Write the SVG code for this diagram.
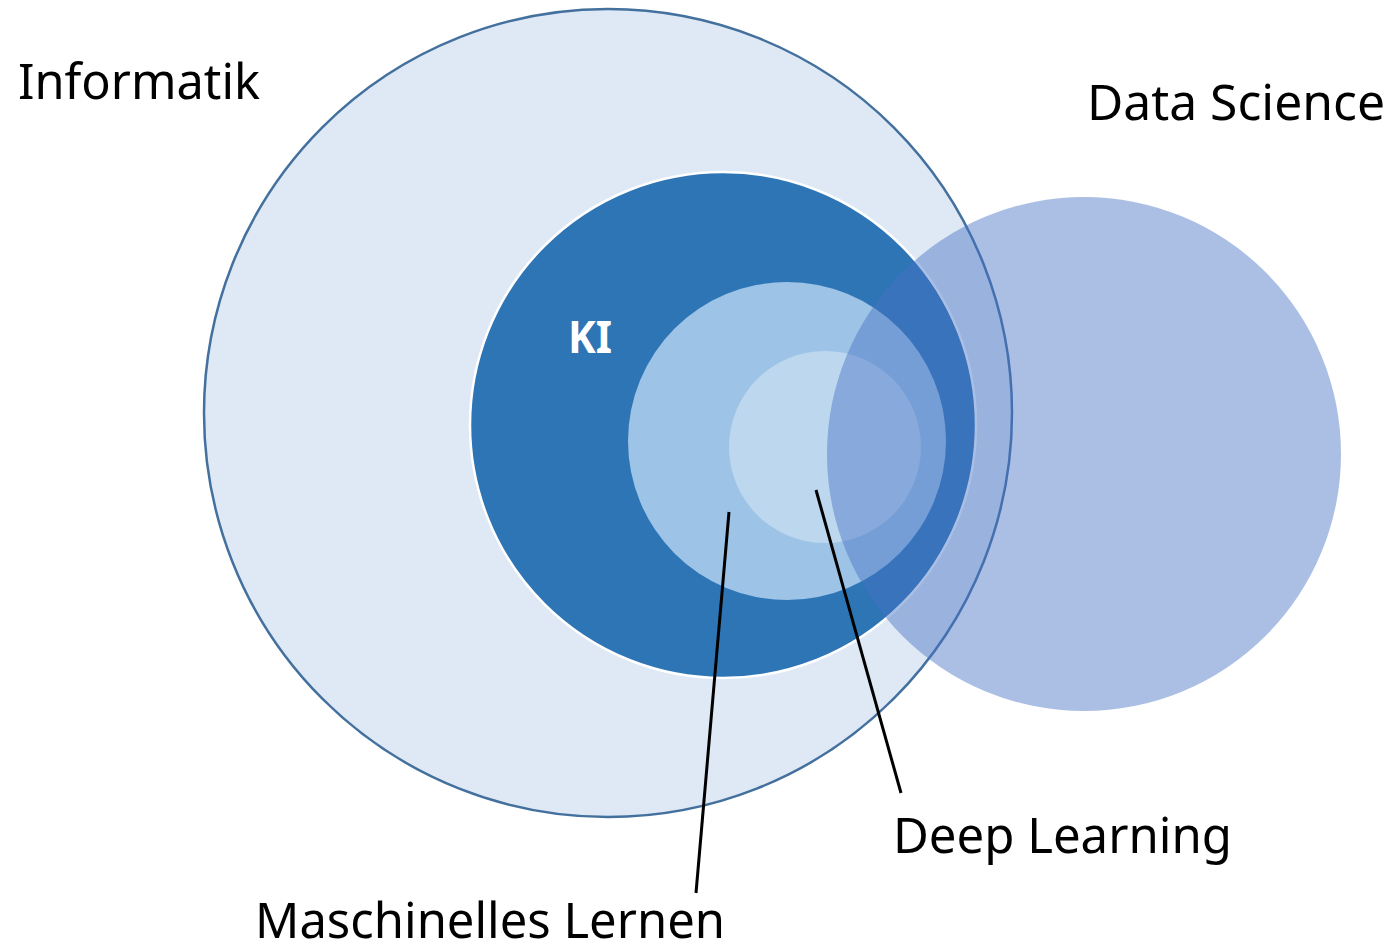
<svg xmlns="http://www.w3.org/2000/svg" width="1393" height="948" viewBox="0 0 1393 948">
  <style>
    .label { font-family: "Noto Sans", "Open Sans", "DejaVu Sans", sans-serif; font-size: 50px; fill: #000000; }
    .ki { font-family: "Noto Sans", "Open Sans", "DejaVu Sans", sans-serif; font-size: 44px; font-weight: bold; fill: #ffffff; }
    .leader { stroke: #000000; stroke-width: 3; fill: none; }
  </style>
  <rect width="1393" height="948" fill="#ffffff"/>

  <g id="informatik">
    <circle cx="608" cy="413" r="404" fill="#DEE9F5" stroke="#44709E" stroke-width="2.5"/>
    <text class="label" x="18" y="99" textLength="242" lengthAdjust="spacingAndGlyphs">Informatik</text>
  </g>

  <g id="ki">
    <circle cx="723" cy="425" r="253" fill="#2E75B6" stroke="#ffffff" stroke-width="2.5"/>
    <text class="ki" x="568" y="353" textLength="44" lengthAdjust="spacingAndGlyphs">KI</text>
  </g>

  <g id="maschinelles-lernen">
    <circle cx="787" cy="441" r="159" fill="#9DC3E6"/>
    <text class="label" x="255" y="938" textLength="470" lengthAdjust="spacingAndGlyphs">Maschinelles Lernen</text>
  </g>

  <g id="deep-learning">
    <circle cx="825" cy="447" r="96" fill="#BDD7EE"/>
    <text class="label" x="893" y="853" textLength="339" lengthAdjust="spacingAndGlyphs">Deep Learning</text>
  </g>

  <g id="data-science">
    <circle cx="1084" cy="454" r="257" fill="#4472C4" fill-opacity="0.45"/>
    <text class="label" x="1087" y="120" textLength="298" lengthAdjust="spacingAndGlyphs">Data Science</text>
  </g>

  <g id="connectors">
    <line class="leader" x1="729" y1="512" x2="696" y2="893"/>
    <line class="leader" x1="816" y1="490" x2="901" y2="793"/>
  </g>
</svg>
